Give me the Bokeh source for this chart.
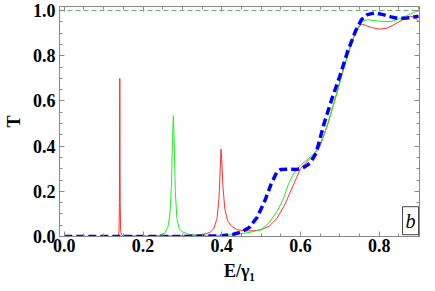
from bokeh.plotting import figure
from bokeh.models import Range1d, LinearAxis, SingleIntervalTicker, Span, Label, PrintfTickFormatter
from bokeh.embed import file_html
from bokeh.resources import INLINE

# Red series
red_x = [0, 0.13, 0.137, 0.139, 0.140, 0.1405, 0.141, 0.1415, 0.142, 0.143, 0.145, 0.15, 0.2, 0.3,
         0.35, 0.37, 0.38, 0.388, 0.393, 0.396, 0.398, 0.400, 0.403, 0.408, 0.415, 0.425, 0.44, 0.46,
         0.48, 0.50, 0.52, 0.54, 0.56, 0.575, 0.59, 0.60, 0.61, 0.63, 0.65, 0.67, 0.69, 0.71, 0.73,
         0.745, 0.755, 0.765, 0.78, 0.80, 0.82, 0.84, 0.86, 0.88, 0.89, 0.9]
red_y = [0, 0, 0.002, 0.02, 0.15, 0.45, 0.70, 0.45, 0.15, 0.03, 0.008, 0.003, 0.002, 0.003,
         0.008, 0.018, 0.035, 0.08, 0.17, 0.29, 0.387, 0.34, 0.22, 0.12, 0.07, 0.045, 0.03, 0.025,
         0.025, 0.03, 0.045, 0.08, 0.14, 0.2, 0.26, 0.3, 0.32, 0.355, 0.4, 0.5, 0.62, 0.75, 0.86,
         0.92, 0.94, 0.935, 0.925, 0.918, 0.922, 0.94, 0.96, 0.975, 0.97, 0.953]

# Green series
green_x = [0, 0.2, 0.24, 0.255, 0.263, 0.268, 0.272, 0.275, 0.277, 0.279, 0.282, 0.286, 0.292, 0.30,
           0.32, 0.36, 0.40, 0.44, 0.47, 0.50, 0.52, 0.54, 0.555, 0.57, 0.585, 0.60, 0.62, 0.64, 0.66,
           0.68, 0.70, 0.72, 0.74, 0.755, 0.77, 0.79, 0.81, 0.83, 0.85, 0.87, 0.89, 0.9]
green_y = [0, 0.001, 0.005, 0.015, 0.04, 0.09, 0.22, 0.43, 0.535, 0.43, 0.2, 0.08, 0.035, 0.02,
           0.008, 0.005, 0.005, 0.01, 0.018, 0.03, 0.06, 0.11, 0.16, 0.235, 0.285, 0.315, 0.345, 0.375, 0.45,
           0.56, 0.68, 0.8, 0.91, 0.95, 0.96, 0.955, 0.952, 0.952, 0.962, 0.978, 0.993, 0.998]

# Blue dashed series
blue_x = [0, 0.3, 0.4, 0.43, 0.45, 0.47, 0.49, 0.51, 0.525, 0.54, 0.55, 0.57, 0.59, 0.60, 0.61,
          0.625, 0.64, 0.66, 0.68, 0.70, 0.72, 0.74, 0.755, 0.77, 0.79, 0.81, 0.83, 0.85, 0.87, 0.89, 0.9]
blue_y = [0, 0.0, 0.003, 0.01, 0.02, 0.04, 0.085, 0.16, 0.23, 0.285, 0.297, 0.298, 0.297, 0.3, 0.308,
          0.325, 0.37, 0.5, 0.61, 0.71, 0.82, 0.91, 0.96, 0.982, 0.99, 0.982, 0.972, 0.965, 0.967, 0.972, 0.975]

x_label = "E/γ₁"
y_label = "T"
panel_tag = "b"

FONT = "'Liberation Serif'"
FRAME = "#8a8a8a"

p = figure(width=420, height=283, output_backend="svg", toolbar_location=None,
           x_range=Range1d(-0.0122, 0.9024), y_range=Range1d(0, 1.018),
           min_border_left=44, min_border_right=1, min_border_top=6, min_border_bottom=0)
p.xgrid.visible = False
p.ygrid.visible = False
p.outline_line_color = FRAME
p.outline_line_width = 1
p.background_fill_color = "white"
p.border_fill_color = "white"

def style_axis(ax, labels=True):
    ax.ticker = SingleIntervalTicker(interval=0.2, num_minor_ticks=4)
    ax.formatter = PrintfTickFormatter(format="%.1f")
    ax.axis_line_color = FRAME
    ax.major_tick_line_color = FRAME
    ax.minor_tick_line_color = FRAME
    ax.major_tick_in = 5
    ax.major_tick_out = 0
    ax.minor_tick_in = 3
    ax.minor_tick_out = 0
    ax.major_label_text_font = FONT
    ax.major_label_text_font_style = "bold"
    ax.major_label_text_font_size = "18px"
    ax.major_label_text_color = "black"
    ax.axis_label_text_font = FONT
    ax.axis_label_text_font_style = "bold"
    ax.axis_label_text_font_size = "18px"
    ax.axis_label_text_color = "black"
    if not labels:
        ax.major_label_text_font_size = "0px"
        ax.major_label_text_alpha = 0

style_axis(p.xaxis[0])
style_axis(p.yaxis[0])
p.xaxis[0].axis_label = x_label
p.yaxis[0].axis_label = y_label
p.xaxis[0].major_label_standoff = 2
p.xaxis[0].axis_label_standoff = 6
p.yaxis[0].major_label_standoff = 4
p.yaxis[0].axis_label_standoff = 6

top = LinearAxis()
right = LinearAxis()
style_axis(top, labels=False)
style_axis(right, labels=False)
top.major_label_standoff = 0
right.major_label_standoff = 0
p.add_layout(top, "above")
p.add_layout(right, "right")

p.add_layout(Span(location=1.0, dimension="width", line_color="#6aa86a",
                  line_dash="5 3", line_width=1))

p.line(red_x, red_y, line_color="#ff3030", line_width=1)
p.line(green_x, green_y, line_color="#22ee22", line_width=1)
p.line(blue_x, blue_y, line_color="#0000ff", line_width=3.5, line_dash="8 4")

p.add_layout(Label(x=0.9, y=0.008, text=panel_tag, text_align="right", text_baseline="bottom",
                   text_font=FONT, text_font_style="italic", text_font_size="20px",
                   text_color="black", padding=3, border_line_color="#444444",
                   border_line_width=1, background_fill_color="white"))

open("out.html", "w").write(file_html(p, INLINE))
